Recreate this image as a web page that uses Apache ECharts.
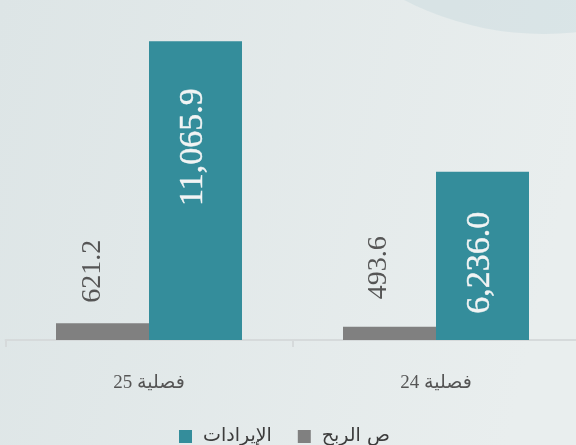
<!DOCTYPE html>
<html>
<head>
<meta charset="utf-8">
<script src="https://cdn.jsdelivr.net/npm/echarts@6/dist/echarts.min.js"></script>
<style>
  html, body { margin: 0; padding: 0; overflow: hidden; width: 576px; height: 445px; }
  #chart { width: 580px; height: 445px; }
</style>
</head>
<body>
<div id="chart"></div>
<script>
// ---- data ----
const categories = ['فصلية 25', 'فصلية 24'];
const profitName = 'ص الربح';
const revenueName = 'الإيرادات';
const profitValues = [621.2, 493.6];
const revenueValues = [11065.9, 6236.0];

// ---- styling ----
const TEAL = '#348d9b';
const GRAY = '#808080';
const numFmt = v => v.toLocaleString('en-US', { minimumFractionDigits: 1, maximumFractionDigits: 1 });

// label anchor points relative to each bar's rect (style, not data)
const profitLabelSpots = [[37, -52], [36, -59]];
const revenueLabelSpots = [[44, 106], [44, 91]];

const chart = echarts.init(document.getElementById('chart'), null, { renderer: 'canvas' });

const option = {
  backgroundColor: {
    type: 'linear', x: 0, y: 0, x2: 1, y2: 0.3,
    colorStops: [
      { offset: 0, color: '#dde5e6' },
      { offset: 1, color: '#e9eeee' }
    ]
  },
  animation: false,
  graphic: [
    {
      type: 'circle', silent: true, z: -10,
      shape: { cx: 544, cy: -271, r: 305 },
      style: { fill: 'rgba(200,218,221,0.45)' }
    }
  ],
  grid: { left: 5.5, top: 16, right: 0.5, bottom: 105, containLabel: false },
  legend: {
    data: [revenueName, profitName],
    left: 174,
    top: 422,
    itemWidth: 13,
    itemHeight: 13,
    itemGap: 26,
    icon: 'rect',
    textStyle: { color: '#3c3c3c', fontSize: 19, fontFamily: "'DejaVu Sans', sans-serif", padding: [0, 0, 0, 6] }
  },
  xAxis: {
    type: 'category',
    data: categories,
    axisLine: { lineStyle: { color: '#d6dadb', width: 2 } },
    axisTick: { show: true, length: 7, lineStyle: { color: '#d6dadb', width: 2 } },
    axisLabel: { color: '#555', fontSize: 19, margin: 34, fontFamily: "'Liberation Serif', 'DejaVu Sans', serif" }
  },
  yAxis: {
    type: 'value', min: 0, max: 12000, show: false,
    splitLine: { show: false }
  },
  series: [
    {
      name: profitName,
      type: 'bar',
      barWidth: 93,
      barGap: '0%',
      itemStyle: { color: GRAY },
      data: profitValues.map((v, i) => ({
        value: v,
        label: { position: profitLabelSpots[i] }
      })),
      label: {
        show: true, rotate: 90, align: 'center', verticalAlign: 'middle',
        color: '#555', fontSize: 28, fontFamily: "'Liberation Serif', serif",
        formatter: p => numFmt(p.value)
      }
    },
    {
      name: revenueName,
      type: 'bar',
      barWidth: 93,
      barGap: '0%',
      itemStyle: { color: TEAL },
      data: revenueValues.map((v, i) => ({
        value: v,
        label: { position: revenueLabelSpots[i] }
      })),
      label: {
        show: true, rotate: 90, align: 'center', verticalAlign: 'middle',
        color: '#f2f4f4', fontSize: 34, fontFamily: "'Liberation Serif', serif",
        textBorderColor: '#f2f4f4', textBorderWidth: 0.4,
        formatter: p => numFmt(p.value)
      }
    }
  ]
};
chart.setOption(option);
</script>
</body>
</html>
